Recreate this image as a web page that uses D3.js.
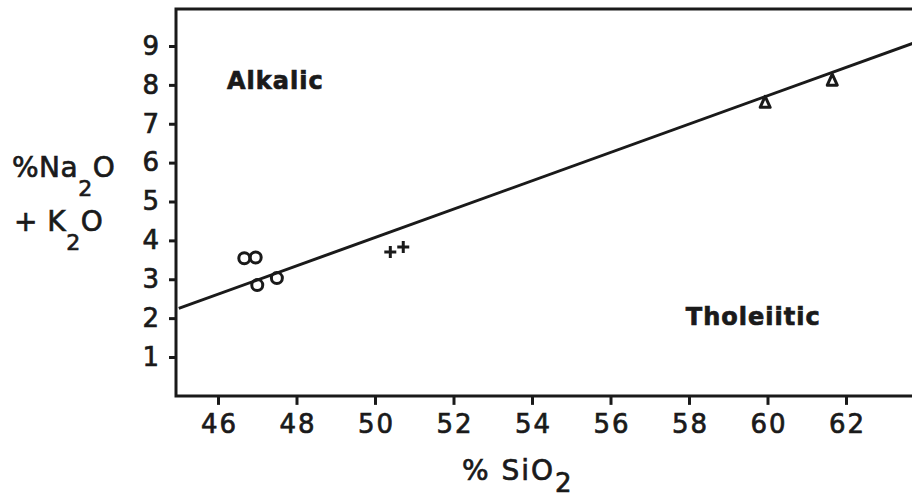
<!DOCTYPE html>
<html>
<head>
<meta charset="utf-8">
<script src="https://cdn.jsdelivr.net/npm/d3@7"></script>
<style>
  body { margin: 0; background: #fff; }
  svg text { font-family: "DejaVu Sans", sans-serif; fill: #1a1a1a; stroke: #1a1a1a; stroke-width: 0.7; }
</style>
</head>
<body>
<div class="chart"></div>
<script>
// values
var xTicks = [46, 48, 50, 52, 54, 56, 58, 60, 62];
var yTicks = [1, 2, 3, 4, 5, 6, 7, 8, 9];
var circlePts = [[46.67, 3.54], [46.96, 3.56], [47.0, 2.85], [47.5, 3.03]];
var crossPts = [[50.39, 3.70], [50.72, 3.83]];
var trianglePts = [[59.94, 7.55], [61.65, 8.12]];
var dividerLine = [[45, 2.25], [63.7, 9.07]];
var regionLabels = [["Alkalic", 46.23, 7.9], ["Tholeiitic", 57.92, 1.82]];

(function () {
    var width = 912, height = 499;
    var ink = "#1a1a1a";

    var svg = d3.select(".chart").append("svg")
        .attr("width", width)
        .attr("height", height);

    var x = d3.scaleLinear().domain([46, 62]).range([218, 846]);
    var y = d3.scaleLinear().domain([1, 9]).range([357, 46]);

    var left = 176, bottom = y(0), top = y(9.95), right = width;

    /*
        Frame
    */
    svg.append("path")
        .attr("d", "M" + right + "," + top + "H" + left + "V" + bottom + "H" + right)
        .attr("fill", "none")
        .attr("stroke", ink)
        .attr("stroke-width", 3);

    /*
        Axes
    */
    var xAxis = svg.append("g")
        .attr("transform", "translate(0," + bottom + ")")
        .call(d3.axisBottom(x).tickValues(xTicks).tickSize(9).tickPadding(10));
    var yAxis = svg.append("g")
        .attr("transform", "translate(" + left + ",0)")
        .call(d3.axisLeft(y).tickValues(yTicks).tickSize(7).tickPadding(8));

    [xAxis, yAxis].forEach(function (g) {
        g.select(".domain").remove();
        g.selectAll("line").attr("stroke", ink).attr("stroke-width", 3);
        g.selectAll("text")
            .attr("font-size", 26)
            .attr("letter-spacing", 2)
            .attr("fill", ink);
    });
    xAxis.selectAll("text").attr("dx", 1);

    /*
        Dividing line
    */
    svg.append("line")
        .attr("x1", x(dividerLine[0][0])).attr("y1", y(dividerLine[0][1]))
        .attr("x2", x(dividerLine[1][0])).attr("y2", y(dividerLine[1][1]))
        .attr("stroke", ink)
        .attr("stroke-width", 3);

    /*
        Points
    */
    svg.selectAll("circle.pt").data(circlePts).enter().append("circle")
        .attr("class", "pt")
        .attr("cx", function (d) { return x(d[0]); })
        .attr("cy", function (d) { return y(d[1]); })
        .attr("r", 5.5)
        .attr("fill", "none")
        .attr("stroke", ink)
        .attr("stroke-width", 3);

    svg.selectAll("path.cross").data(crossPts).enter().append("path")
        .attr("class", "cross")
        .attr("transform", function (d) { return "translate(" + x(d[0]) + "," + y(d[1]) + ")"; })
        .attr("d", "M-6,0H6M0,-6V6")
        .attr("stroke", ink)
        .attr("stroke-width", 3);

    svg.selectAll("path.tri").data(trianglePts).enter().append("path")
        .attr("class", "tri")
        .attr("transform", function (d) { return "translate(" + x(d[0]) + "," + y(d[1]) + ")"; })
        .attr("d", "M0,-6L5,5H-5Z")
        .attr("fill", "none")
        .attr("stroke", ink)
        .attr("stroke-width", 3)
        .attr("stroke-linejoin", "round");

    /*
        Region labels
    */
    svg.selectAll("text.region").data(regionLabels).enter().append("text")
        .attr("class", "region")
        .attr("x", function (d) { return x(d[1]); })
        .attr("y", function (d) { return y(d[2]); })
        .attr("font-size", 24)
        .attr("font-weight", "bold")
        .attr("letter-spacing", 1)
        .attr("stroke-width", 0)
        .text(function (d) { return d[0]; });

    /*
        Axis titles
    */
    var xt = svg.append("text")
        .attr("x", 462)
        .attr("y", 480)
        .attr("font-size", 28)
        .attr("letter-spacing", 2);
    xt.append("tspan").text("% SiO");
    xt.append("tspan").attr("dy", 12).attr("font-size", 26).text("2");

    var yt1 = svg.append("text")
        .attr("x", 12)
        .attr("y", 177)
        .attr("font-size", 28)
        .attr("letter-spacing", 0.5);
    yt1.append("tspan").text("%Na");
    yt1.append("tspan").attr("dy", 19).attr("font-size", 22).text("2");
    yt1.append("tspan").attr("dy", -19).text("O");

    var yt2 = svg.append("text")
        .attr("x", 14)
        .attr("y", 231)
        .attr("font-size", 28)
        .attr("letter-spacing", 0.5);
    yt2.append("tspan").text("+ K");
    yt2.append("tspan").attr("dy", 19).attr("font-size", 22).text("2");
    yt2.append("tspan").attr("dy", -19).text("O");
})();
</script>
</body>
</html>
